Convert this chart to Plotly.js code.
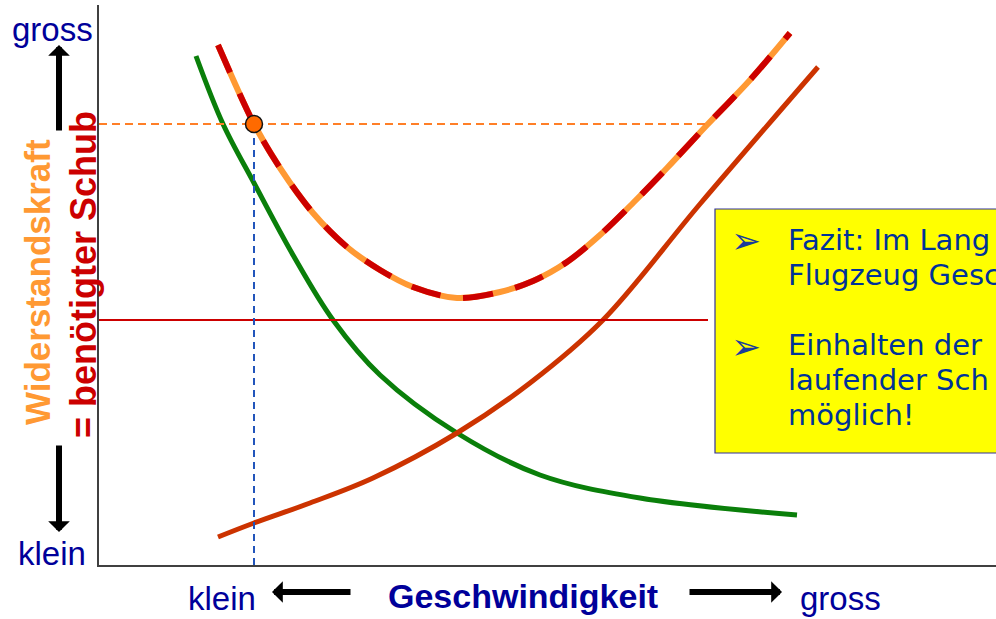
<!DOCTYPE html>
<html>
<head>
<meta charset="utf-8">
<script src="https://cdn.plot.ly/plotly-3.0.1.min.js"></script>
<style>html,body{margin:0;padding:0;background:#fff;overflow:hidden}#chart{width:996px;height:619px}</style>
</head>
<body>
<div id="chart"></div>
<script>
// ---- data (x = speed, y = drag force) ----
const speedInduced = [97, 124, 155, 194, 234, 281, 358, 441, 541, 698];
const dragInduced  = [509, 441, 382, 310, 245, 190, 132, 90, 67, 50];

const speedParasitic = [119, 155, 211, 274, 358, 431, 504, 601, 719];
const dragParasitic  = [28, 42, 62, 87, 132, 182, 245, 361, 498];

const speedTotal = [119, 155, 181, 214, 248, 281, 314, 358, 401, 434, 468, 501, 534, 568, 608, 651, 691];
const dragTotal  = [520, 441, 397, 352, 318, 295, 278, 267, 273, 284, 303, 330, 362, 397, 440, 485, 532];

const operatingPoint = {speed: 155, drag: 441};
const thrustLevel = 245;
const refLineSpeeds = [0, 609];

const yLabelTop = "gross", yLabelBottom = "klein";
const xLabelLeft = "klein", xLabelRight = "gross";
const xTitle = "Geschwindigkeit";
const yTitle1 = "Widerstandskraft", yTitle2 = "= benötigter Schub";
const boxLines1 = ["Fazit: Im Lang", "Flugzeug Gesc"];
const boxLines2 = ["Einhalten der", "laufender Sch", "möglich!"];

// ---- geometry helpers (pixel -> paper) ----
const L = 99, R = 996, T = 5, B = 565;
const px = x => (x - L) / (R - L);
const py = y => (B - y) / (B - T);

const traces = [
  {x: speedInduced, y: dragInduced, mode: 'lines', line: {color: '#0a7f0a', width: 5, shape: 'spline', smoothing: 1}, hoverinfo: 'skip'},
  {x: speedParasitic, y: dragParasitic, mode: 'lines', line: {color: '#cc3300', width: 5, shape: 'spline', smoothing: 1}, hoverinfo: 'skip'},
  {x: speedTotal, y: dragTotal, mode: 'lines', line: {color: '#ff9933', width: 6, shape: 'spline', smoothing: 0.9}, hoverinfo: 'skip'},
  {x: speedTotal, y: dragTotal, mode: 'lines', line: {color: '#cc0000', width: 6, shape: 'spline', smoothing: 0.9, dash: '30px,23px'}, hoverinfo: 'skip'},
  {x: refLineSpeeds, y: [thrustLevel, thrustLevel], mode: 'lines', line: {color: '#cc0000', width: 2}, hoverinfo: 'skip'},
  {x: refLineSpeeds, y: [operatingPoint.drag, operatingPoint.drag], mode: 'lines', line: {color: '#ff7f27', width: 2, dash: '8px,5px'}, hoverinfo: 'skip'},
  {x: [operatingPoint.speed, operatingPoint.speed], y: [0, operatingPoint.drag], mode: 'lines', line: {color: '#2255bb', width: 2, dash: '7px,5px'}, hoverinfo: 'skip'},
  {x: [operatingPoint.speed], y: [operatingPoint.drag], mode: 'markers', marker: {size: 17, color: '#ff6a00', line: {color: '#111', width: 1.5}}, hoverinfo: 'skip'}
];

const blue = '#00009a';
const sansFont = 'Liberation Sans, Arial, sans-serif';
const boxFont = 'DejaVu Sans, Verdana, sans-serif';

function txt(x, y, text, opts) {
  return Object.assign({xref: 'paper', yref: 'paper', x: px(x), y: py(y), text: text, showarrow: false,
    xanchor: 'center', yanchor: 'middle', font: {family: sansFont, size: 33, color: blue}}, opts || {});
}
function arrow(x, y, ax, ay) {
  return {xref: 'paper', yref: 'paper', x: px(x), y: py(y), ax: ax - x, ay: ay - y, text: '', showarrow: true,
    arrowhead: 1, arrowsize: 0.6, arrowwidth: 6, arrowcolor: '#000', standoff: 0, startstandoff: 0};
}

const annotations = [
  txt(52, 30, yLabelTop),
  txt(52, 553, yLabelBottom),
  txt(37, 282, '<b>' + yTitle1 + '</b>', {textangle: -90, font: {family: sansFont, size: 35, color: '#ff9933'}}),
  txt(83, 275, '<b>' + yTitle2 + '</b>', {textangle: -90, font: {family: sansFont, size: 36, color: '#cc0000'}}),
  txt(222, 598, xLabelLeft),
  txt(840, 598, xLabelRight),
  txt(523, 596, '<b>' + xTitle + '</b>', {font: {family: sansFont, size: 34, color: blue}}),
  arrow(59, 45, 59, 132),
  arrow(59, 532, 59, 444),
  arrow(272, 592, 352, 592),
  arrow(782, 592, 688, 592),
  // box text
  txt(729, 241, '➢', {xanchor: 'left', font: {family: boxFont, size: 36, color: '#1a3c9a'}}),
  txt(729, 346, '➢', {xanchor: 'left', font: {family: boxFont, size: 36, color: '#1a3c9a'}}),
  txt(786, 240, boxLines1[0], {xanchor: 'left', font: {family: boxFont, size: 29, color: '#003399'}}),
  txt(786, 275, boxLines1[1], {xanchor: 'left', font: {family: boxFont, size: 29, color: '#003399'}}),
  txt(786, 345, boxLines2[0], {xanchor: 'left', font: {family: boxFont, size: 29, color: '#003399'}}),
  txt(786, 380, boxLines2[1], {xanchor: 'left', font: {family: boxFont, size: 29, color: '#003399'}}),
  txt(786, 415, boxLines2[2], {xanchor: 'left', font: {family: boxFont, size: 29, color: '#003399'}})
];

const layout = {
  width: 996, height: 619,
  margin: {l: L, r: 996 - R, t: T, b: 619 - B, pad: 0},
  paper_bgcolor: '#fff', plot_bgcolor: '#fff',
  showlegend: false,
  xaxis: {range: [0, R - L], showline: true, linecolor: '#404040', linewidth: 2, showgrid: false, zeroline: false, showticklabels: false, ticks: '', fixedrange: true},
  yaxis: {range: [0, B - T], showline: true, linecolor: '#404040', linewidth: 2, showgrid: false, zeroline: false, showticklabels: false, ticks: '', fixedrange: true},
  shapes: [
    {type: 'rect', xref: 'paper', yref: 'paper', x0: px(715), x1: px(1010), y0: py(453), y1: py(209), fillcolor: '#ffff00', line: {color: '#333399', width: 1.2}, layer: 'above'}
  ],
  annotations: annotations
};

Plotly.newPlot('chart', traces, layout, {displayModeBar: false, staticPlot: true});
</script>
</body>
</html>
